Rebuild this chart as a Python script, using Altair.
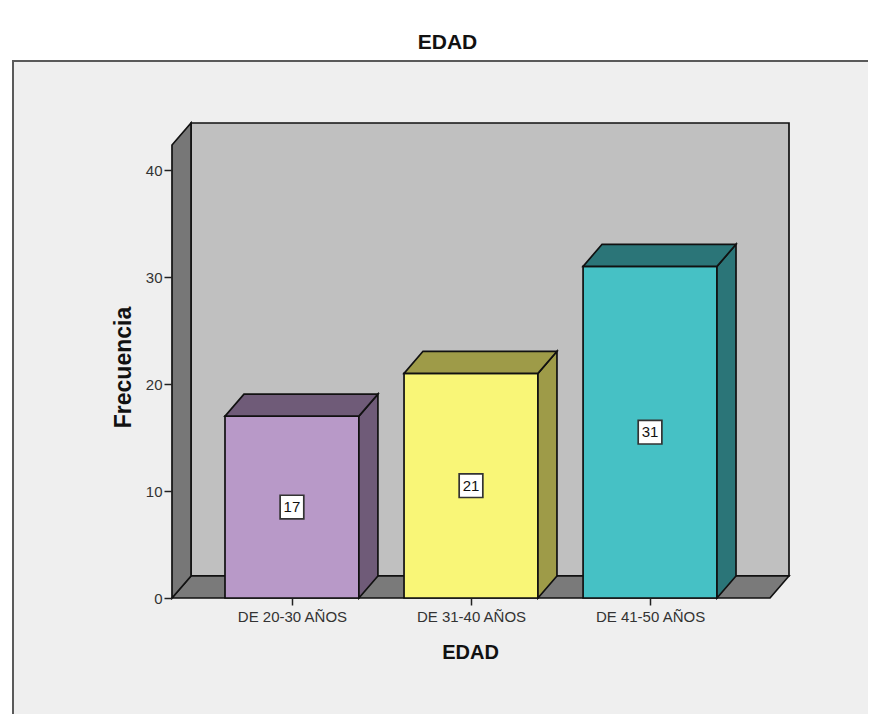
import json
import altair as alt
import pandas as pd

# ---- data ----
categories = ["DE 20-30 AÑOS", "DE 31-40 AÑOS", "DE 41-50 AÑOS"]
values = [17, 21, 31]
front_colors = ["#b899c8", "#f9f677", "#46c1c5"]
side_colors = ["#6f5b78", "#9e9b48", "#2b7578"]
y_ticks = [0, 10, 20, 30, 40]

# ---- layout constants (in scale units) ----
W, H = 617, 475
X0, X1 = -0.67, 2.67          # front floor extent
DX = 19 / 179                  # depth shift along x
YTOP = 42.34                   # front top of left wall
DY = 2.06                      # depth shift along y
BW = 0.374                     # half bar width
XMAX = X1 + DX
YMAX = YTOP + DY
FONT = "Liberation Sans"
SW = 1.7

xs = alt.Scale(domain=[X0, XMAX], nice=False, zero=False)
ys = alt.Scale(domain=[0, YMAX], nice=False, zero=False)

label_expr = json.dumps(categories, ensure_ascii=False) + "[datum.value]"

x_axis = alt.Axis(values=[0, 1, 2], labelExpr=label_expr, title="EDAD", zindex=1,
                  domain=False, grid=False, tickSize=7, tickColor="#222", tickWidth=1.5,
                  labelFontSize=15, labelFont=FONT, labelColor="#333", labelPadding=4,
                  labelFlush=False, titleFont=FONT, titleFontSize=20, titleFontWeight="bold",
                  titleColor="#111", titleX=298, titleY=60, titleBaseline="alphabetic")
y_axis = alt.Axis(values=y_ticks, title="Frecuencia", domain=False, grid=False, zindex=1,
                  tickSize=8, tickColor="#222", tickWidth=1.5, labelFontSize=15,
                  labelFont=FONT, labelColor="#333", labelPadding=2, labelFlush=False,
                  titleFont=FONT, titleFontSize=23, titleFontWeight="bold", titleColor="#111",
                  titleX=-42, titleY=244, titleAngle=270, titleBaseline="alphabetic")


def X(f):
    return alt.X(f, scale=xs, axis=x_axis, stack=None)


def Y(f):
    return alt.Y(f, scale=ys, axis=y_axis, stack=None)


col_scale = alt.Scale(domain=categories, range=side_colors)
front_scale = alt.Scale(domain=categories, range=front_colors)

# panel frame (decoration)
panel = alt.Chart(pd.DataFrame({"a": [0]})).mark_rect(
    fill="#efefef", stroke="#5a5a5a", strokeWidth=2
).encode(x=alt.value(-159), x2=alt.value(760), y=alt.value(-62), y2=alt.value(660))

# back wall
back_df = pd.DataFrame({"x": [X0 + DX], "x2": [XMAX], "y": [DY], "y2": [YMAX]})
back = alt.Chart(back_df).mark_rect(fill="#c0c0c0", stroke="#111", strokeWidth=SW).encode(
    x=X("x:Q"), x2="x2", y=Y("y:Q"), y2="y2")

# left wall
left_df = pd.DataFrame({"x": [X0, X0 + DX], "y": [0, DY], "y2": [YTOP, YMAX]})
left = alt.Chart(left_df).mark_area(fill="#777777", stroke="#111", strokeWidth=SW,
                                    orient="vertical").encode(
    x=X("x:Q"), y=Y("y:Q"), y2="y2")

# floor
floor_df = pd.DataFrame({"y": [0, DY], "x": [X0, X0 + DX], "x2": [X1, XMAX]})
floor = alt.Chart(floor_df).mark_area(fill="#7a7a7a", stroke="#111", strokeWidth=SW,
                                      orient="horizontal").encode(
    y=Y("y:Q"), x=X("x:Q"), x2="x2")

# bars
front_rows, side_rows, top_rows, lab_rows = [], [], [], []
for i, (c, v) in enumerate(zip(categories, values)):
    front_rows.append({"bar": c, "x": i - BW, "x2": i + BW, "y": 0, "y2": v})
    side_rows.append({"bar": c, "x": i + BW, "y": 0, "y2": v})
    side_rows.append({"bar": c, "x": i + BW + DX, "y": DY, "y2": v + DY})
    top_rows.append({"bar": c, "y": v, "x": i - BW, "x2": i + BW})
    top_rows.append({"bar": c, "y": v + DY, "x": i - BW + DX, "x2": i + BW + DX})
    lab_rows.append({"bar": c, "x": i, "y": v / 2, "v": v})

front = alt.Chart(pd.DataFrame(front_rows)).mark_rect(stroke="#111", strokeWidth=SW).encode(
    x=X("x:Q"), x2="x2", y=Y("y:Q"), y2="y2",
    fill=alt.Fill("bar:N", scale=front_scale, legend=None))

side = alt.Chart(pd.DataFrame(side_rows)).mark_area(stroke="#111", strokeWidth=SW,
                                                    orient="vertical").encode(
    x=X("x:Q"), y=Y("y:Q"), y2="y2",
    fill=alt.Fill("bar:N", scale=col_scale, legend=None), detail="bar:N")

top = alt.Chart(pd.DataFrame(top_rows)).mark_area(stroke="#111", strokeWidth=SW,
                                                  orient="horizontal").encode(
    y=Y("y:Q"), x=X("x:Q"), x2="x2",
    fill=alt.Fill("bar:N", scale=col_scale, legend=None), detail="bar:N")

lab_df = pd.DataFrame(lab_rows)
boxes = alt.Chart(lab_df).mark_point(shape="square", filled=True, fill="white", stroke="#333",
                                     strokeWidth=1.7, size=560, opacity=1).encode(
    x=X("x:Q"), y=Y("y:Q"))
texts = alt.Chart(lab_df).mark_text(font=FONT, fontSize=15, color="#111",
                                    baseline="middle", align="center").encode(
    x=X("x:Q"), y=Y("y:Q"), text="v:Q")

chart = alt.layer(panel, back, floor, left, front, side, top, boxes, texts).resolve_scale(
    fill="independent"
).properties(
    width=W, height=H,
    padding={"left": 164, "top": 115, "right": 79, "bottom": 116},
    autosize=alt.AutoSizeParams(type="none"),
    title=alt.TitleParams("EDAD", font=FONT, fontSize=21, fontWeight="bold", color="#111",
                          anchor="middle", dx=-33, offset=-10, baseline="alphabetic"),
).configure(background="white").configure_view(stroke=None)

chart.save("out.html", embed_options={"renderer": "svg", "actions": False})
